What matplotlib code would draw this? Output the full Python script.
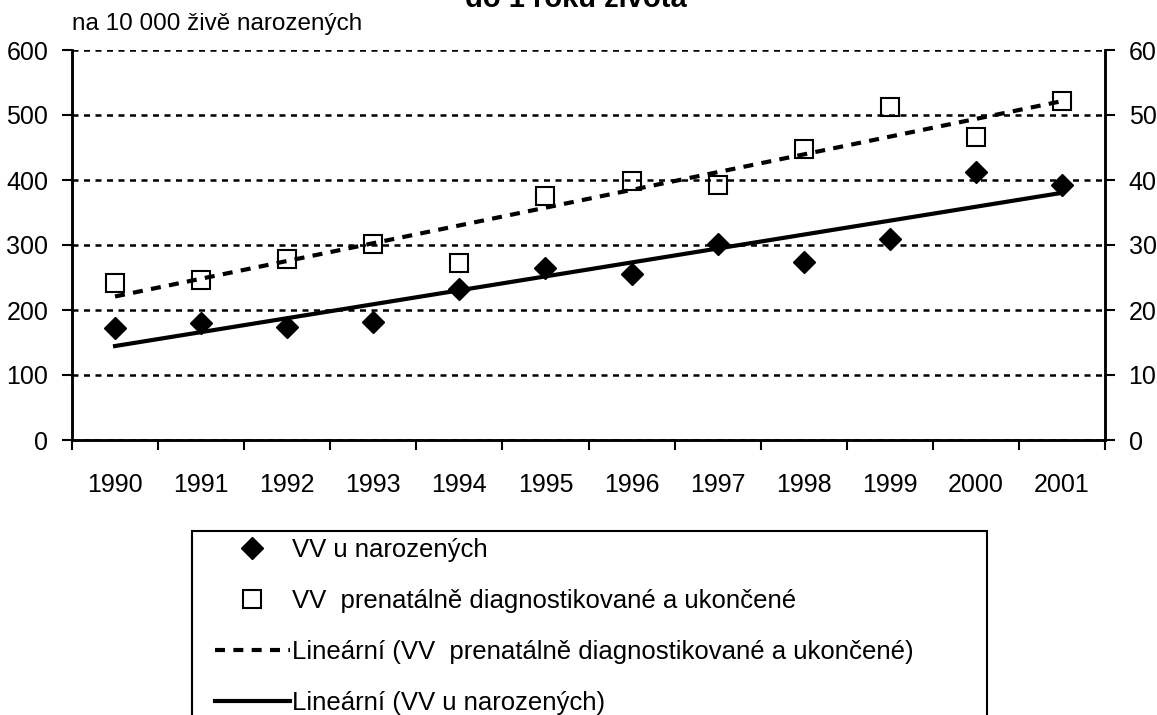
import matplotlib
matplotlib.use("Agg")
import matplotlib.pyplot as plt
from matplotlib.lines import Line2D
from matplotlib.patches import Rectangle
import numpy as np

plt.rcParams["font.family"] = ["Liberation Sans", "DejaVu Sans"]

years = ["1990", "1991", "1992", "1993", "1994", "1995",
         "1996", "1997", "1998", "1999", "2000", "2001"]
vv_narozenych = [172, 180, 174, 182, 232, 264, 255, 301, 274, 310, 412, 393]
vv_prenatalne = [24.1, 24.6, 27.9, 30.1, 27.3, 37.5, 39.8, 39.2, 44.8, 51.3, 46.6, 52.1]

label_nar = "VV u narozených"
label_pre = "VV  prenatálně diagnostikované a ukončené"

W, H = 1157, 715
fig = plt.figure(figsize=(W / 100, H / 100), dpi=100)
ax = fig.add_axes([72 / W, 1 - 440 / H, (1105 - 72) / W, (440 - 50) / H])
ax2 = ax.twinx()

x = np.arange(len(years))

# linearni trendy
k1 = np.polyfit(x, vv_narozenych, 1)
k2 = np.polyfit(x, vv_prenatalne, 1)

ax.plot(x, np.polyval(k1, x), color="black", lw=3, zorder=3)
ax.plot(x, vv_narozenych, linestyle="none", marker="D", ms=11.5, color="black", zorder=4)

ax2.plot(x, np.polyval(k2, x), color="black", lw=3, linestyle=(0, (2.4, 2.0)), zorder=3)
ax2.plot(x, vv_prenatalne, linestyle="none", marker="s", ms=13, mfc="none",
         mec="black", mew=1.5, zorder=4)

ax.set_xlim(-0.5, len(years) - 0.5)
ax.set_ylim(0, 600)
ax2.set_ylim(0, 60)
ax.set_yticks(range(0, 601, 100))
ax2.set_yticks(range(0, 61, 10))

ax.set_xticks(np.arange(-0.5, len(years), 1.0))
ax.set_xticklabels([])
ax.set_xticks(x, minor=True)
ax.set_xticklabels(years, minor=True)
ax.tick_params(axis="x", which="major", direction="out", length=7, width=1.5)
ax.tick_params(axis="x", which="minor", length=0, pad=24, labelsize=18)
ax.tick_params(axis="y", direction="out", length=7, width=1.5, pad=10, labelsize=18)
ax2.tick_params(axis="y", direction="out", length=7, width=1.5, pad=10, labelsize=18)

ax.yaxis.grid(True, color="black", linestyle=(0, (2.4, 2.2)), lw=1.8)
ax.set_axisbelow(True)
for a in (ax, ax2):
    a.spines["top"].set_visible(False)
    for s in ("left", "right", "bottom"):
        a.spines[s].set_linewidth(1.8)

fig.text(576 / W, 1 - 7 / H, "do 1 roku života", ha="center", va="baseline",
         fontsize=21, fontweight="bold")
fig.text(72 / W, 1 - 30 / H, "na 10 000 živě narozených", ha="left", va="baseline",
         fontsize=17.5)

handles = [
    Line2D([], [], linestyle="none", marker="D", ms=11.5, color="black"),
    Line2D([], [], linestyle="none", marker="s", ms=13, mfc="none", mec="black", mew=1.5),
    Line2D([], [], color="black", lw=3, linestyle=(0, (2.4, 2.0))),
    Line2D([], [], color="black", lw=3),
]
labels = [label_nar, label_pre, "Lineární (" + label_pre + ")", "Lineární (" + label_nar + ")"]
fig.legend(handles, labels, loc="upper left", bbox_to_anchor=(215 / W, 1 - 538 / H),
           frameon=False, fontsize=18.5, handlelength=2.9, handletextpad=0.1,
           labelspacing=1.05, borderpad=0, borderaxespad=0, numpoints=1)

fig.patches.append(Rectangle((192 / W, -0.1), (987 - 192) / W, 0.1 + 1 - 531 / H,
                             transform=fig.transFigure, fill=False, lw=1.5,
                             edgecolor="black"))

fig.savefig("out.png", dpi=100)
